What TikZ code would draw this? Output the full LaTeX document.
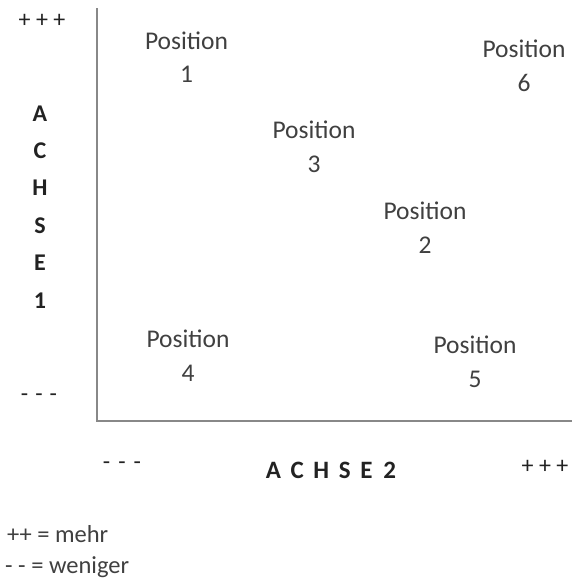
\documentclass[tikz,border=0pt]{standalone}
\usepackage{fontspec}
\setmainfont{Carlito}
\definecolor{txt}{HTML}{404040}
\definecolor{dark}{HTML}{222222}
\definecolor{axis}{HTML}{888888}
\begin{document}
\begin{tikzpicture}[x=1pt,y=-1pt,
  posbox/.style={text=txt,font=\fontsize{25.5}{33.5}\selectfont,align=center,inner sep=0pt,anchor=north},
  lab/.style={text=dark,font=\fontsize{24}{24}\selectfont\bfseries,inner sep=0pt,anchor=base},
  sym/.style={text=dark,font=\fontsize{24}{24}\selectfont,inner sep=0pt},
  leg/.style={text=txt,font=\fontsize{24.5}{24}\selectfont,inner sep=0pt,anchor=base west}]
\useasboundingbox (0,0) rectangle (572,581);
\coordinate (top) at (97,8);
\coordinate (origin) at (97,421);
\coordinate (right) at (572,421);
\draw[axis,line width=1.5pt] (top) -- (origin) -- (right);
\node[sym] (yp) at (42,21) {+ + +};
\node[sym] (ym) at (39,398) {-\hspace{7pt}-\hspace{7pt}-};
\foreach \ch [count=\i] in {A,C,H,S,E,1}
  \node[lab] (y\i) at (40,{121+(\i-1)*37.4}) {\ch};
\node[sym] (xm) at (122,466) {-\hspace{8pt}-\hspace{8pt}-};
\node[lab,font=\fontsize{25}{26}\selectfont\bfseries] (x2) at (331,478) {A\hspace{9.6pt}C\hspace{9.6pt}H\hspace{9.6pt}S\hspace{9.6pt}E\hspace{11pt}2};
\node[sym] (xp) at (545,467) {+ + +};
\node[posbox] (p1) at (186.5,31.5) {Position\\1};
\node[posbox] (p6) at (524,40) {Position\\6};
\node[posbox] (p3) at (314,121) {Position\\3};
\node[posbox] (p2) at (425,202) {Position\\2};
\node[posbox] (p4) at (188,330) {Position\\4};
\node[posbox] (p5) at (475,336) {Position\\5};
\node[leg] (l1) at (7,542) {++ = mehr};
\node[leg] (l2) at (5,573) {- - = weniger};
\end{tikzpicture}
\end{document}
